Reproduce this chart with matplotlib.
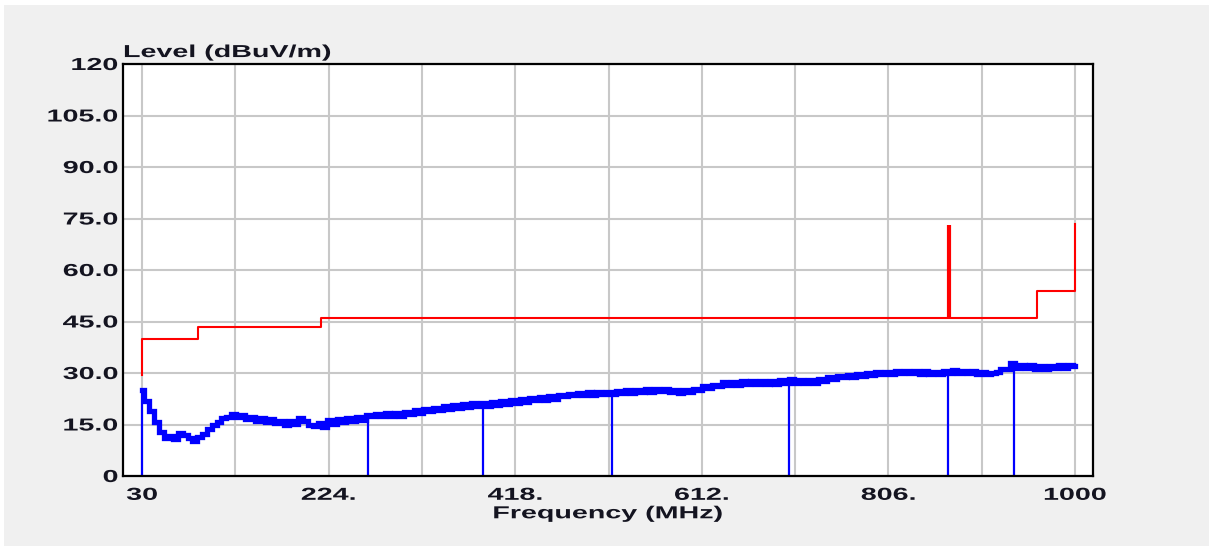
import numpy as np
import matplotlib
matplotlib.use("Agg")
import matplotlib.pyplot as plt
from matplotlib.patheffects import AbstractPathEffect
from matplotlib.transforms import Affine2D
from matplotlib.patches import Rectangle

# ---------------- data ----------------
freq = [30, 35, 40, 45, 50, 55, 60, 65, 70, 75, 80, 85, 90, 95, 100, 105, 110, 115, 120, 125,
        130, 135, 140, 145, 150, 155, 160, 165, 170, 175, 180, 185, 190, 195, 200, 205, 210, 215, 220, 225,
        230, 235, 240, 245, 250, 255, 260, 265, 270, 275, 280, 285, 290, 295, 300, 305, 310, 315, 320, 325,
        330, 335, 340, 345, 350, 355, 360, 365, 370, 375, 380, 385, 390, 395, 400, 405, 410, 415, 420, 425,
        430, 435, 440, 445, 450, 455, 460, 465, 470, 475, 480, 485, 490, 495, 500, 505, 510, 515, 520, 525,
        530, 535, 540, 545, 550, 555, 560, 565, 570, 575, 580, 585, 590, 595, 600, 605, 610, 615, 620, 625,
        630, 635, 640, 645, 650, 655, 660, 665, 670, 675, 680, 685, 690, 695, 700, 705, 710, 715, 720, 725,
        730, 735, 740, 745, 750, 755, 760, 765, 770, 775, 780, 785, 790, 795, 800, 805, 810, 815, 820, 825,
        830, 835, 840, 845, 850, 855, 860, 865, 870, 875, 880, 885, 890, 895, 900, 905, 910, 915, 920, 925,
        930, 935, 940, 945, 950, 955, 960, 965, 970, 975, 980, 985, 990, 995, 1000]
level = [25.0, 21.8, 19.0, 15.6, 12.9, 11.2, 11.6, 10.8, 12.4, 11.9, 11.0, 10.3, 11.5, 12.3, 13.6, 15.0, 15.6, 16.8, 17.2, 18.2,
         17.1, 17.8, 16.5, 17.2, 16.0, 16.8, 15.8, 16.6, 15.4, 16.1, 15.0, 15.9, 15.2, 17.0, 16.0, 14.8, 14.6, 15.4, 14.4, 16.2,
         15.2, 16.6, 15.6, 16.9, 15.9, 17.3, 16.4, 17.9, 17.6, 18.0, 17.5, 18.3, 17.4, 18.4, 17.6, 18.6, 18.2, 19.1, 18.3, 19.4,
         19.0, 19.7, 19.2, 20.4, 19.6, 20.7, 19.9, 21.0, 20.1, 21.2, 20.4, 21.3, 20.4, 21.5, 20.8, 21.9, 21.1, 22.2, 21.3, 22.4,
         21.6, 22.8, 22.0, 22.9, 22.1, 23.2, 22.4, 23.5, 23.2, 23.9, 23.5, 24.2, 23.6, 24.4, 23.7, 24.6, 23.8, 24.5, 23.9, 24.8,
         24.1, 25.0, 24.2, 25.1, 24.4, 25.2, 24.6, 25.3, 24.8, 25.4, 24.5, 25.1, 24.2, 25.0, 24.4, 25.3, 25.1, 26.1, 25.7, 26.6,
         26.2, 27.3, 26.5, 27.5, 26.6, 27.6, 26.7, 27.8, 26.8, 27.7, 26.7, 27.8, 26.9, 28.0, 27.0, 28.2, 27.2, 28.0, 27.1, 28.1,
         27.2, 28.2, 27.8, 28.7, 28.3, 29.0, 28.7, 29.4, 28.9, 29.6, 29.2, 29.9, 29.5, 30.2, 29.7, 30.4, 29.8, 30.6, 29.9, 30.6,
         30.0, 30.7, 29.8, 30.5, 29.6, 30.4, 29.7, 30.6, 29.9, 30.9, 29.9, 30.7, 29.9, 30.5, 29.7, 30.3, 29.6, 30.1, 30.2, 31.3,
         31.1, 32.8, 31.6, 32.2, 31.5, 32.2, 31.3, 32.0, 31.2, 32.1, 31.4, 32.3, 31.5, 32.4, 32.0]

limit_freq = [30, 30, 88, 88, 216, 216, 960, 960, 1000, 1000]
limit_level = [29.3, 40.0, 40.0, 43.5, 43.5, 46.0, 46.0, 54.0, 54.0, 73.5]

spike_freq = [869]
spike_bottom = [46.0]
spike_top = [73.0]

marker_freq = [30, 264.6, 384.5, 518.6, 702.6, 868.3, 936.5]
marker_level = [25.0, 17.3, 20.8, 24.2, 27.5, 30.5, 32.3]

y_ticks = [0, 15, 30, 45, 60, 75, 90, 105, 120]
y_tick_labels = ["0", "15.0", "30.0", "45.0", "60.0", "75.0", "90.0", "105.0", "120"]
x_ticks = [30, 224, 418, 612, 806, 1000]
x_tick_labels = ["30", "224.", "418.", "612.", "806.", "1000"]
x_minor_ticks = [127, 321, 515, 709, 903]


# ------------- horizontally stretched text (still real Text objects) -------------
class Stretch(AbstractPathEffect):
    def __init__(self, sx, anchor="left"):
        super().__init__()
        self.sx = sx
        self.anchor = anchor

    def draw_path(self, renderer, gc, tpath, affine, rgbFace=None):
        ext = tpath.get_extents()
        if self.anchor == "right":
            a = ext.x1
        elif self.anchor == "center":
            a = 0.5 * (ext.x0 + ext.x1)
        else:
            a = 0.0
        t = Affine2D().translate(-a, 0).scale(self.sx, 1.0).translate(a, 0) + affine
        renderer.draw_path(gc, tpath, t, rgbFace)


W, H = 1209, 546
fig = plt.figure(figsize=(W / 100, H / 100), dpi=100, facecolor="white")
fig.patches.append(Rectangle((4 / W, 0), 1, (H - 5) / H, transform=fig.transFigure,
                             facecolor="#f0f0f0", edgecolor="none", zorder=-10))

ax = fig.add_axes([123 / W, 70 / H, 970 / W, 412 / H])
ax.set_facecolor("white")
ax.set_xlim(10.25, 1018.7)
ax.set_ylim(0, 120)

txt_color = "#141420"
fp = dict(family=["Liberation Sans", "DejaVu Sans"], weight="bold", size=12.5)
SX = 1.65

ax.set_yticks(y_ticks)
ax.set_yticklabels(y_tick_labels, color=txt_color, **fp)
ax.set_xticks(x_ticks)
ax.set_xticklabels(x_tick_labels, color=txt_color, **fp)
ax.set_xticks(x_minor_ticks, minor=True)
for t in ax.get_yticklabels():
    t.set_path_effects([Stretch(SX, "right")])
for t in ax.get_xticklabels():
    t.set_path_effects([Stretch(SX, "center")])

ax.tick_params(which="both", length=0)
ax.tick_params(axis="y", pad=3.6)
ax.tick_params(axis="x", pad=8.5)

ax.grid(True, which="both", color="#c8c8c8", linewidth=1.5)
ax.set_axisbelow(True)
for s in ax.spines.values():
    s.set_color("#000000")
    s.set_linewidth(1.6)
    s.set_zorder(6)

# limit line
ax.plot(limit_freq, limit_level, color="#ff0000", linewidth=1.5, zorder=3)
ax.vlines(spike_freq, spike_bottom, spike_top, color="#ff0000", linewidth=3.0, zorder=3)

# measured trace
ax.plot(freq, level, color="#0000ff", linewidth=3.8, drawstyle="steps-mid",
        solid_joinstyle="miter", zorder=4)
ax.vlines(marker_freq, 0, marker_level, color="#0000ff", linewidth=1.6, zorder=4)

ax.set_xlabel("Frequency (MHz)", color=txt_color, labelpad=2.5, **fp,
              path_effects=[Stretch(SX, "center")])
ax.annotate("Level (dBuV/m)", xy=(0, 1), xycoords="axes fraction", xytext=(0, 5),
            textcoords="offset points", ha="left", va="baseline", color=txt_color, **fp,
            path_effects=[Stretch(SX, "left")])

fig.savefig("out.png", dpi=100, facecolor=fig.get_facecolor())
